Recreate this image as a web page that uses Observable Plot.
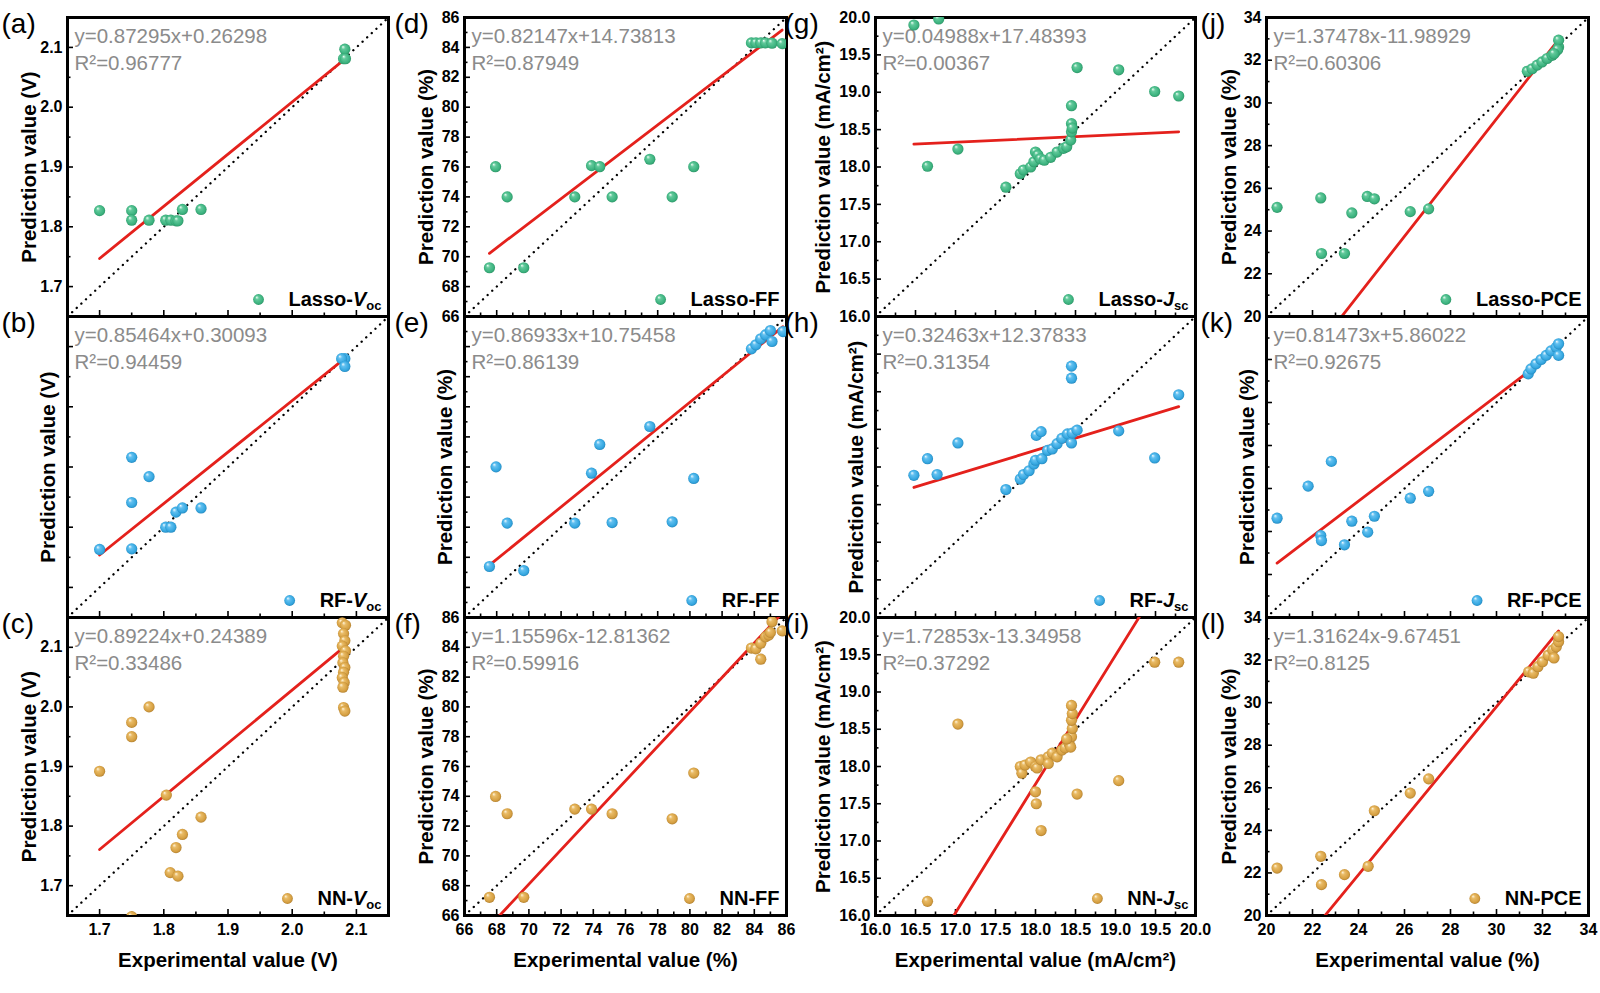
<!DOCTYPE html>
<html><head><meta charset="utf-8">
<script src="https://cdn.jsdelivr.net/npm/d3@7"></script>
<script src="https://cdn.jsdelivr.net/npm/@observablehq/plot@0.6"></script>
<style>
body{margin:0;background:#fff;}
#root{position:relative;width:1600px;height:993px;overflow:hidden;background:#fff;}
</style></head>
<body>
<svg width="0" height="0" style="position:absolute;left:0;top:0">
<defs>
<radialGradient id="ballGreen" cx="0.5" cy="0.5" r="0.55" fx="0.32" fy="0.28">
<stop offset="0" stop-color="#effff6"/><stop offset="0.3" stop-color="#62c99b"/><stop offset="0.75" stop-color="#3cb37f"/><stop offset="1" stop-color="#2b8d61"/>
</radialGradient>
<radialGradient id="ballBlue" cx="0.5" cy="0.5" r="0.55" fx="0.32" fy="0.28">
<stop offset="0" stop-color="#f0faff"/><stop offset="0.3" stop-color="#62c0f0"/><stop offset="0.75" stop-color="#35a7e0"/><stop offset="1" stop-color="#2181b6"/>
</radialGradient>
<radialGradient id="ballGold" cx="0.5" cy="0.5" r="0.55" fx="0.32" fy="0.28">
<stop offset="0" stop-color="#fff6df"/><stop offset="0.3" stop-color="#e9bb66"/><stop offset="0.75" stop-color="#d6a042"/><stop offset="1" stop-color="#a9792d"/>
</radialGradient>
</defs>
</svg>
<div id="root"></div>
<script>
// ---------------- DATA ----------------
const models = ["Lasso", "RF", "NN"];
const panelLetters = ["(a)","(b)","(c)","(d)","(e)","(f)","(g)","(h)","(i)","(j)","(k)","(l)"];

// Voc (V)
const vocTicks = [1.7, 1.8, 1.9, 2.0, 2.1];
const vocLassoX = [1.700, 1.750, 1.750, 1.777, 1.803, 1.811, 1.819, 1.822, 1.829, 1.858, 2.082, 2.080, 2.083];
const vocLassoY = [1.827, 1.827, 1.811, 1.811, 1.811, 1.811, 1.810, 1.810, 1.829, 1.829, 2.097, 2.081, 2.081];
const vocRFX = [1.700, 1.750, 1.777, 1.750, 1.750, 1.803, 1.811, 1.819, 1.829, 1.858, 2.082, 2.077, 2.082];
const vocRFY = [1.763, 1.916, 1.884, 1.841, 1.764, 1.800, 1.800, 1.825, 1.832, 1.832, 2.080, 2.080, 2.067];
const vocNNX = [1.700, 1.750, 1.750, 1.777, 1.804, 1.858, 1.829, 1.819, 1.810, 1.822, 1.750,
  2.078, 2.083, 2.080, 2.082, 2.078, 2.083, 2.080, 2.079, 2.082, 2.080, 2.078, 2.081, 2.079, 2.080, 2.082];
const vocNNY = [1.892, 1.974, 1.950, 2.000, 1.852, 1.815, 1.786, 1.764, 1.722, 1.716, 1.648,
  2.141, 2.137, 2.123, 2.111, 2.102, 2.094, 2.085, 2.074, 2.066, 2.058, 2.049, 2.041, 2.033, 1.999, 1.993];

// FF (%)
const ffTicks = [66, 68, 70, 72, 74, 76, 78, 80, 82, 84, 86];
const ffLassoX = [67.55, 67.93, 68.65, 69.68, 72.85, 73.89, 74.40, 75.17, 77.51, 78.90, 80.24, 83.82, 84.10, 84.40, 84.70, 85.10, 85.73];
const ffLassoY = [69.26, 76.02, 74.00, 69.26, 74.00, 76.09, 76.02, 74.00, 76.52, 74.00, 76.02, 84.30, 84.30, 84.30, 84.30, 84.28, 84.25];
const ffRFX = [67.55, 67.96, 68.65, 69.68, 72.85, 73.89, 74.40, 75.17, 77.51, 78.90, 80.24, 83.82, 84.10, 84.40, 84.70, 85.00, 85.10, 85.78];
const ffRFY = [69.39, 76.01, 72.27, 69.12, 72.27, 75.59, 77.50, 72.31, 78.69, 72.36, 75.24, 83.85, 84.12, 84.52, 84.78, 85.07, 84.34, 85.00];
const ffNNX = [67.55, 67.93, 68.65, 69.68, 72.85, 73.89, 75.17, 78.90, 80.24, 83.82, 84.10, 84.40, 84.40, 84.70, 84.90, 85.00, 85.10, 85.73];
const ffNNY = [67.22, 73.99, 72.83, 67.22, 73.14, 73.14, 72.83, 72.49, 75.56, 83.95, 83.90, 83.20, 84.27, 84.70, 84.82, 85.00, 85.72, 85.10];

// Jsc (mA/cm2)
const jscTicks = [16.0, 16.5, 17.0, 17.5, 18.0, 18.5, 19.0, 19.5, 20.0];
const jscLassoX = [16.48, 16.79, 16.65, 17.03, 17.63, 17.81, 17.85, 17.94, 17.98, 18.00, 18.03, 18.06, 18.11, 18.19, 18.27, 18.35, 18.39, 18.44, 18.45, 18.45, 18.46, 18.45, 18.52, 19.04, 19.49, 19.79];
const jscLassoY = [19.90, 19.98, 18.01, 18.24, 17.73, 17.91, 17.96, 18.00, 18.07, 18.20, 18.16, 18.11, 18.09, 18.13, 18.20, 18.25, 18.27, 18.36, 18.47, 18.58, 18.52, 18.82, 19.33, 19.30, 19.01, 18.95];
const jscRFX = [16.48, 16.65, 16.77, 17.03, 17.63, 17.81, 17.85, 17.92, 17.98, 18.00, 18.01, 18.07, 18.08, 18.15, 18.21, 18.27, 18.33, 18.40, 18.45, 18.46, 18.52, 18.45, 18.45, 19.04, 19.49, 19.79];
const jscRFY = [17.89, 18.11, 17.90, 18.32, 17.70, 17.84, 17.90, 17.95, 18.04, 18.09, 18.42, 18.47, 18.11, 18.22, 18.24, 18.31, 18.38, 18.44, 18.32, 18.45, 18.49, 19.18, 19.34, 18.48, 18.12, 18.96];
const jscNNX = [16.65, 17.03, 19.49, 19.79, 19.04, 18.52, 18.00, 18.01, 18.07, 17.81, 17.83, 17.87, 17.94, 18.00, 18.02, 18.07, 18.16, 18.16, 18.21, 18.27, 18.33, 18.37, 18.42, 18.45, 18.46, 18.45, 18.46, 18.45, 18.44, 18.39];
const jscNNY = [16.19, 18.57, 19.40, 19.40, 17.81, 17.63, 17.66, 17.50, 17.14, 18.00, 17.91, 18.02, 18.06, 18.00, 17.98, 18.09, 18.13, 18.04, 18.18, 18.13, 18.22, 18.25, 18.31, 18.40, 18.51, 18.62, 18.71, 18.82, 18.26, 18.37];

// PCE (%)
const pceTicks = [20, 22, 24, 26, 28, 30, 32, 34];
const pceLassoX = [20.46, 22.36, 22.39, 23.71, 23.39, 24.38, 24.69, 26.25, 27.05, 31.34, 31.55, 31.77, 31.98, 32.20, 32.42, 32.56, 32.70, 32.70, 32.66, 32.50];
const pceLassoY = [25.11, 25.55, 22.95, 24.85, 22.95, 25.62, 25.51, 24.91, 25.04, 31.48, 31.60, 31.77, 31.92, 32.08, 32.23, 32.39, 32.62, 32.94, 32.50, 32.30];
const pceRFX = [20.46, 21.81, 22.82, 22.36, 22.39, 23.39, 23.71, 24.40, 24.69, 26.25, 27.05, 31.38, 31.50, 31.72, 31.94, 32.16, 32.37, 32.60, 32.70, 32.70];
const pceRFY = [24.62, 26.11, 27.26, 23.81, 23.58, 23.38, 24.48, 23.97, 24.71, 25.55, 25.87, 31.33, 31.56, 31.80, 32.00, 32.19, 32.40, 32.57, 32.73, 32.19];
const pceNNX = [20.46, 22.36, 22.39, 23.39, 24.42, 24.69, 26.25, 27.05, 31.40, 31.60, 31.80, 32.00, 32.25, 32.45, 32.60, 32.70, 32.70, 32.50];
const pceNNY = [22.23, 22.78, 21.45, 21.92, 22.31, 24.92, 25.75, 26.42, 31.45, 31.38, 31.69, 31.92, 32.23, 32.47, 32.62, 32.86, 33.10, 32.10];

// Fits (a..l)
const fitSlopes = [0.87295, 0.85464, 0.89224, 0.82147, 0.86933, 1.15596, 0.04988, 0.32463, 1.72853, 1.37478, 0.81473, 1.31624];
const fitIntercepts = [0.26298, 0.30093, 0.24389, 14.73813, 10.75458, -12.81362, 17.48393, 12.37833, -13.34958, -11.98929, 5.86022, -9.67451];
const fitEquations = ["y=0.87295x+0.26298","y=0.85464x+0.30093","y=0.89224x+0.24389",
  "y=0.82147x+14.73813","y=0.86933x+10.75458","y=1.15596x-12.81362",
  "y=0.04988x+17.48393","y=0.32463x+12.37833","y=1.72853x-13.34958",
  "y=1.37478x-11.98929","y=0.81473x+5.86022","y=1.31624x-9.67451"];
const fitR2 = ["R²=0.96777","R²=0.94459","R²=0.33486","R²=0.87949","R²=0.86139","R²=0.59916",
  "R²=0.00367","R²=0.31354","R²=0.37292","R²=0.60306","R²=0.92675","R²=0.8125"];

// ---------------- STYLE / LAYOUT ----------------
const FONT = '"Liberation Sans", Arial, Helvetica, sans-serif';
const RED = "#e4211c";
const EQ_GRAY = "#8b8b8b";
const ballFills = ["url(#ballGreen)", "url(#ballBlue)", "url(#ballGold)"];

const columns = [
  {domain: [1.65, 2.15], ticks: vocTicks, fmt: ".1f", xs: [vocLassoX, vocRFX, vocNNX], ys: [vocLassoY, vocRFY, vocNNY],
   xTitle: "Experimental value (V)", yTitle: "Prediction value (V)", legend: {plain: "", italic: "V", sub: "oc"}, titleDx: -38, letterDx: -66},
  {domain: [66, 86], ticks: ffTicks, fmt: "d", xs: [ffLassoX, ffRFX, ffNNX], ys: [ffLassoY, ffRFY, ffNNY],
   xTitle: "Experimental value (%)", yTitle: "Prediction value (%)", legend: {plain: "FF", italic: "", sub: ""}, titleDx: -38, letterDx: -70},
  {domain: [16, 20], ticks: jscTicks, fmt: ".1f", xs: [jscLassoX, jscRFX, jscNNX], ys: [jscLassoY, jscRFY, jscNNY],
   xTitle: "Experimental value (mA/cm²)", yTitle: "Prediction value (mA/cm²)", legend: {plain: "", italic: "J", sub: "sc"}, titleDx: -52, letterDx: -91},
  {domain: [20, 34], ticks: pceTicks, fmt: "d", xs: [pceLassoX, pceRFX, pceNNX], ys: [pceLassoY, pceRFY, pceNNY],
   xTitle: "Experimental value (%)", yTitle: "Prediction value (%)", legend: {plain: "PCE", italic: "", sub: ""}, titleDx: -37, letterDx: -66}
];

const colLeft = [67, 464, 875, 1266], colRight = [388, 786, 1195, 1588];
const rowTop = [17, 316, 617], rowBottom = [316, 617, 915];
const ML = 100, MR = 14, MT = 24;

const ctx = document.createElement("canvas").getContext("2d");
function textWidth(s, size, style) {
  if (!s) return 0;
  ctx.font = `${style || "normal"} bold ${size}px ${FONT}`;
  return ctx.measureText(s).width;
}
function minorTicks(ticks, domain) {
  const s = ticks[1] - ticks[0];
  return [ticks[0] - s / 2, ...ticks.map(t => t + s / 2)]
    .filter(t => t >= domain[0] - 1e-9 && t <= domain[1] + 1e-9);
}

const root = document.getElementById("root");

function drawPanel(c, r) {
  const col = columns[c];
  const k = c * 3 + r;
  const xs = col.xs[r], ys = col.ys[r];
  const fw = colRight[c] - colLeft[c], fh = rowBottom[r] - rowTop[r];
  const MB = r === 2 ? 80 : 14;
  const data = xs.map((x, i) => ({x, y: ys[i]}));
  const [lo, hi] = col.domain;
  const fit = [d3.min(xs), d3.max(xs)].map(x => ({x, y: fitSlopes[k] * x + fitIntercepts[k]}));
  const minors = minorTicks(col.ticks, col.domain);

  // legend pieces
  const plain = models[r] + "-" + col.legend.plain;
  const w1 = textWidth(plain, 20), w2 = textWidth(col.legend.italic, 20, "italic"), w3 = textWidth(col.legend.sub, 13);
  const start = -7 - (w1 + w2 + w3);
  const LY = -17;

  const marks = [
    Plot.frame({stroke: "black", strokeWidth: 3}),
    Plot.axisX({ticks: col.ticks, tickSize: 6, dy: -6, tickFormat: () => "", label: null, strokeWidth: 1.6}),
    Plot.axisX({ticks: minors, tickSize: 3.5, dy: -3.5, tickFormat: () => "", label: null, strokeWidth: 1.6}),
    Plot.axisY({ticks: col.ticks, tickSize: 6, dx: 6, tickFormat: () => "", label: null, strokeWidth: 1.6}),
    Plot.axisY({ticks: minors, tickSize: 3.5, dx: 3.5, tickFormat: () => "", label: null, strokeWidth: 1.6}),
    Plot.line([[lo, lo], [hi, hi]], {stroke: "black", strokeWidth: 2.3, strokeDasharray: "0.1,6.2", strokeLinecap: "round"}),
    Plot.line(fit, {x: "x", y: "y", stroke: RED, strokeWidth: 2.8, clip: true}),
    Plot.text([fitEquations[k]], {text: d => d, frameAnchor: "top-left", textAnchor: "start", lineAnchor: "bottom", dx: 7, dy: 25, fill: EQ_GRAY, fontSize: 20.5, fontWeight: "normal"}),
    Plot.text([fitR2[k]], {text: d => d, frameAnchor: "top-left", textAnchor: "start", lineAnchor: "bottom", dx: 7, dy: 52, fill: EQ_GRAY, fontSize: 20.5, fontWeight: "normal"}),
    Plot.dot(data, {x: "x", y: "y", r: 5.6, fill: ballFills[r], clip: true}),
    // legend
    Plot.dot([0], {frameAnchor: "bottom-right", dx: start - 30, dy: LY, r: 5.4, fill: ballFills[r]}),
    Plot.text([plain], {text: d => d, frameAnchor: "bottom-right", textAnchor: "start", lineAnchor: "middle", dx: start, dy: LY, fontSize: 20, fontWeight: "bold"}),
    Plot.text([col.legend.italic], {text: d => d, frameAnchor: "bottom-right", textAnchor: "start", lineAnchor: "middle", dx: start + w1, dy: LY, fontSize: 20, fontWeight: "bold", fontStyle: "italic"}),
    Plot.text([col.legend.sub], {text: d => d, frameAnchor: "bottom-right", textAnchor: "start", lineAnchor: "middle", dx: start + w1 + w2, dy: LY + 6, fontSize: 13, fontWeight: "bold"}),
    // y title
    Plot.text([col.yTitle], {text: d => d, frameAnchor: "left", rotate: -90, textAnchor: "middle", lineAnchor: "middle", dx: r === 1 ? -19 : col.titleDx, fontSize: 20.5, fontWeight: "bold"}),
    // panel letter
    Plot.text([panelLetters[k]], {text: d => d, frameAnchor: "top-left", textAnchor: "start", lineAnchor: "bottom", dx: col.letterDx, dy: 15, fontSize: 28, fontWeight: "normal"})
  ];
  if (r !== 1) {
    marks.push(Plot.axisY({ticks: col.ticks, tickSize: 0, tickPadding: 5, tickFormat: col.fmt, label: null, fontSize: 16, fontWeight: "bold"}));
  }
  if (r === 2) {
    marks.push(Plot.axisX({ticks: col.ticks, tickSize: 0, tickPadding: 8, tickFormat: col.fmt, label: null, fontSize: 16, fontWeight: "bold"}));
    marks.push(Plot.text([col.xTitle], {text: d => d, frameAnchor: "bottom", textAnchor: "middle", lineAnchor: "middle", dy: 45, fontSize: 20.5, fontWeight: "bold"}));
  }

  const svg = Plot.plot({
    width: ML + fw + MR,
    height: MT + fh + MB,
    marginLeft: ML, marginRight: MR, marginTop: MT, marginBottom: MB,
    x: {domain: col.domain},
    y: {domain: col.domain},
    style: {position: "absolute", left: (colLeft[c] - ML) + "px", top: (rowTop[r] - MT) + "px",
            background: "transparent", overflow: "visible", fontFamily: FONT, color: "black", maxWidth: "none"},
    marks
  });
  root.appendChild(svg);
}

for (let c = 0; c < 4; c++) for (let r = 0; r < 3; r++) drawPanel(c, r);
</script>
</body></html>
